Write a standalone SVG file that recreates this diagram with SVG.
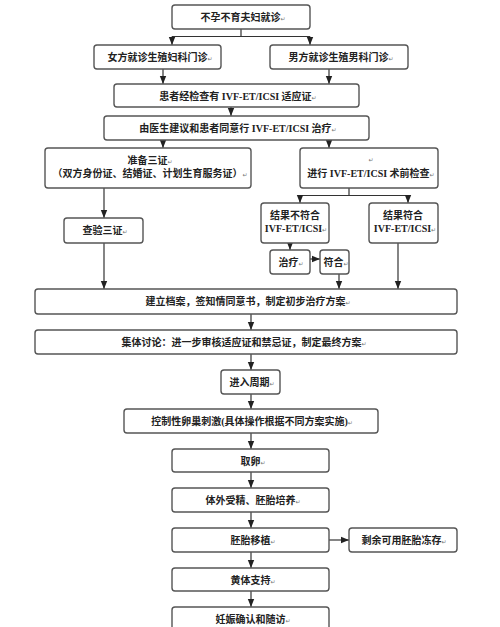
<svg xmlns="http://www.w3.org/2000/svg" width="500" height="627" viewBox="0 0 500 627">
<style>
.b{fill:#fff;stroke:#555;stroke-width:1.4}
.t{font-family:"Liberation Serif","Noto Sans CJK SC",serif;font-size:10px;fill:#222;text-anchor:middle;font-weight:bold}
.r{font-family:"DejaVu Sans",sans-serif;font-size:6px;fill:#777;font-weight:normal}
.c{stroke:#333;stroke-width:1.2;fill:none}
</style>
<defs>
<marker id="a" markerUnits="userSpaceOnUse" markerWidth="8" markerHeight="8" viewBox="0 0 8 8" refX="8" refY="4" orient="auto">
<path d="M0,0.8 L8,4 L0,7.2 Z" fill="#222"/>
</marker>
</defs>
<rect width="500" height="627" fill="#fff"/>
<g id="connectors">
<path class="c" d="M241,29 V36.5 M172,36.5 H310"/>
<path class="c" marker-end="url(#a)" d="M172,36.5 V45"/>
<path class="c" marker-end="url(#a)" d="M310,36.5 V45"/>
<path class="c" marker-end="url(#a)" d="M163,69 V84"/>
<path class="c" marker-end="url(#a)" d="M329,69 V84"/>
<path class="c" marker-end="url(#a)" d="M231,107 V116"/>
<path class="c" marker-end="url(#a)" d="M163,140 V148"/>
<path class="c" marker-end="url(#a)" d="M329,140 V148"/>
<path class="c" marker-end="url(#a)" d="M104,188 V218"/>
<path class="c" d="M349,188 V195.5 M300,195.5 H408"/>
<path class="c" marker-end="url(#a)" d="M300,195.5 V203"/>
<path class="c" marker-end="url(#a)" d="M408,195.5 V203"/>
<path class="c" marker-end="url(#a)" d="M290,243 V250"/>
<path class="c" marker-end="url(#a)" d="M310,259 H320"/>
<path class="c" marker-end="url(#a)" d="M339,274 V289"/>
<path class="c" marker-end="url(#a)" d="M398,243 V289"/>
<path class="c" marker-end="url(#a)" d="M104,243 V289"/>
<path class="c" marker-end="url(#a)" d="M251,314 V330"/>
<path class="c" marker-end="url(#a)" d="M251,354 V370"/>
<path class="c" marker-end="url(#a)" d="M251,394 V409"/>
<path class="c" marker-end="url(#a)" d="M251,433 V449"/>
<path class="c" marker-end="url(#a)" d="M251,472 V488"/>
<path class="c" marker-end="url(#a)" d="M251,512 V528"/>
<path class="c" marker-end="url(#a)" d="M329,540 H349"/>
<path class="c" marker-end="url(#a)" d="M251,552 V568"/>
<path class="c" marker-end="url(#a)" d="M251,591 V607"/>
</g>
<g id="n1"><rect class="b" x="172" y="5" width="138" height="24" rx="3"/><text class="t" x="243" y="21">不孕不育夫妇就诊<tspan class="r">↵</tspan></text></g>
<g id="n2"><rect class="b" x="94" y="45" width="127" height="24" rx="3"/><text class="t" x="160" y="61">女方就诊生殖妇科门诊<tspan class="r">↵</tspan></text></g>
<g id="n3"><rect class="b" x="270" y="45" width="138" height="24" rx="3"/><text class="t" x="341" y="61">男方就诊生殖男科门诊<tspan class="r">↵</tspan></text></g>
<g id="n4"><rect class="b" x="114" y="84" width="245" height="23" rx="3"/><text class="t" x="238" y="99.5">患者经检查有 IVF-ET/ICSI 适应证<tspan class="r">↵</tspan></text></g>
<g id="n5"><rect class="b" x="104" y="116" width="265" height="24" rx="3"/><text class="t" x="238" y="132">由医生建议和患者同意行 IVF-ET/ICSI 治疗<tspan class="r">↵</tspan></text></g>
<g id="n6"><rect class="b" x="45" y="148" width="206" height="40" rx="3"/><text class="t" x="150" y="164">准备三证<tspan class="r">↵</tspan></text><text class="t" x="150" y="177">（双方身份证、结婚证、计划生育服务证）<tspan class="r">↵</tspan></text></g>
<g id="n7"><rect class="b" x="300" y="148" width="138" height="40" rx="3"/><text class="t" x="371" y="162"><tspan class="r">↵</tspan></text><text class="t" x="371" y="177">进行 IVF-ET/ICSI 术前检查<tspan class="r">↵</tspan></text></g>
<g id="n8"><rect class="b" x="64" y="218" width="79" height="25" rx="3"/><text class="t" x="105" y="234">查验三证<tspan class="r">↵</tspan></text></g>
<g id="n9"><rect class="b" x="261" y="203" width="68" height="40" rx="3"/><text class="t" x="295" y="219">结果不符合</text><text class="t" x="296" y="232">IVF-ET/ICSI<tspan class="r">↵</tspan></text></g>
<g id="n10"><rect class="b" x="369" y="203" width="69" height="40" rx="3"/><text class="t" x="403" y="219">结果符合</text><text class="t" x="405" y="232">IVF-ET/ICSI<tspan class="r">↵</tspan></text></g>
<g id="n11"><rect class="b" x="270" y="250" width="40" height="24" rx="3"/><text class="t" x="291" y="266">治疗<tspan class="r">↵</tspan></text></g>
<g id="n12"><rect class="b" x="320" y="250" width="29" height="24" rx="3"/><text class="t" x="336" y="266">符合<tspan class="r">↵</tspan></text></g>
<g id="n13"><rect class="b" x="35" y="289" width="422" height="25" rx="3"/><text class="t" x="248" y="305">建立档案，签知情同意书，制定初步治疗方案<tspan class="r">↵</tspan></text></g>
<g id="n14"><rect class="b" x="35" y="330" width="422" height="24" rx="3"/><text class="t" x="244" y="346">集体讨论：进一步审核适应证和禁忌证，制定最终方案<tspan class="r">↵</tspan></text></g>
<g id="n15"><rect class="b" x="221" y="370" width="59" height="24" rx="3"/><text class="t" x="252" y="386">进入周期<tspan class="r">↵</tspan></text></g>
<g id="n16"><rect class="b" x="124" y="409" width="254" height="24" rx="3"/><text class="t" x="252" y="425">控制性卵巢刺激(具体操作根据不同方案实施)<tspan class="r">↵</tspan></text></g>
<g id="n17"><rect class="b" x="172" y="449" width="157" height="23" rx="3"/><text class="t" x="253" y="464.5">取卵<tspan class="r">↵</tspan></text></g>
<g id="n18"><rect class="b" x="172" y="488" width="157" height="24" rx="3"/><text class="t" x="253" y="504">体外受精、胚胎培养<tspan class="r">↵</tspan></text></g>
<g id="n19"><rect class="b" x="172" y="528" width="157" height="24" rx="3"/><text class="t" x="253" y="544">胚胎移植<tspan class="r">↵</tspan></text></g>
<g id="n20"><rect class="b" x="349" y="528" width="108" height="24" rx="3"/><text class="t" x="404" y="544">剩余可用胚胎冻存<tspan class="r">↵</tspan></text></g>
<g id="n21"><rect class="b" x="172" y="568" width="157" height="23" rx="3"/><text class="t" x="253" y="583.5">黄体支持<tspan class="r">↵</tspan></text></g>
<g id="n22"><rect class="b" x="172" y="607" width="157" height="24" rx="3"/><text class="t" x="253" y="623">妊娠确认和随访<tspan class="r">↵</tspan></text></g>
</svg>
